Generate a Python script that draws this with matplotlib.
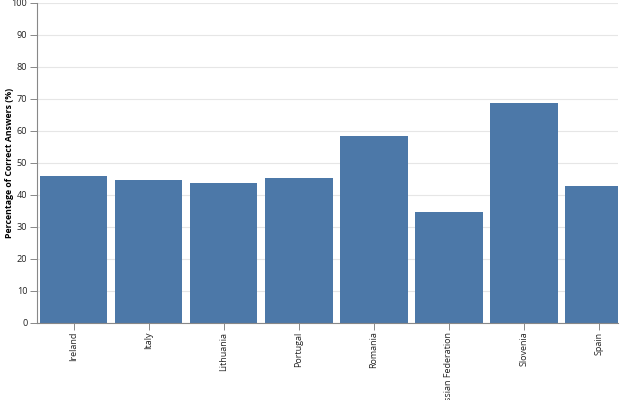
import matplotlib
matplotlib.use("Agg")
import matplotlib.pyplot as plt
import numpy as np

plt.rcParams['font.family'] = ['Open Sans', 'DejaVu Sans']

countries = ['Ireland', 'Italy', 'Lithuania', 'Portugal', 'Romania',
             'Russian Federation', 'Slovenia', 'Spain']
pct_correct = [45.9, 44.5, 43.5, 45.3, 58.3, 34.5, 68.7, 42.8]

bar_color = '#4c78a8'
axis_color = '#888888'
grid_color = '#e6e6e6'

W, H = 640, 400
fig = plt.figure(figsize=(W / 100, H / 100), dpi=100)
left, right, bottom, top = 37, 618, 322.5, 2.5
ax = fig.add_axes([left / W, 1 - bottom / H, (right - left) / W, (bottom - top) / H])

x = np.arange(len(countries))
ax.bar(x, pct_correct, width=0.9, color=bar_color, zorder=2)

# band step is 75px, the last band is cut off at the right edge
ax.set_ylim(0, 100)
ax.set_xlim(-0.487, 7.253)
ax.set_yticks(np.arange(0, 101, 10))
ax.set_xticks(x)
ax.set_xticklabels(countries, rotation=90, fontsize=6.5, color='#222222')
ax.tick_params(axis='y', labelsize=6.6, labelcolor='#222222', length=5,
               width=0.7, color=axis_color, pad=2)
ax.tick_params(axis='x', length=5, width=0.7, color=axis_color, pad=1.5)

ax.yaxis.grid(True, color=grid_color, linewidth=0.8, zorder=0)
ax.set_axisbelow(True)

for s in ['top', 'right']:
    ax.spines[s].set_visible(False)
for s in ['left', 'bottom']:
    ax.spines[s].set_color(axis_color)
    ax.spines[s].set_linewidth(0.8)

ax.set_ylabel('Percentage of Correct Answers (%)', fontsize=6.3,
              fontweight='bold', color='#000000')
ax.yaxis.set_label_coords(-0.039, 0.5)

fig.savefig('out.png', dpi=100)
